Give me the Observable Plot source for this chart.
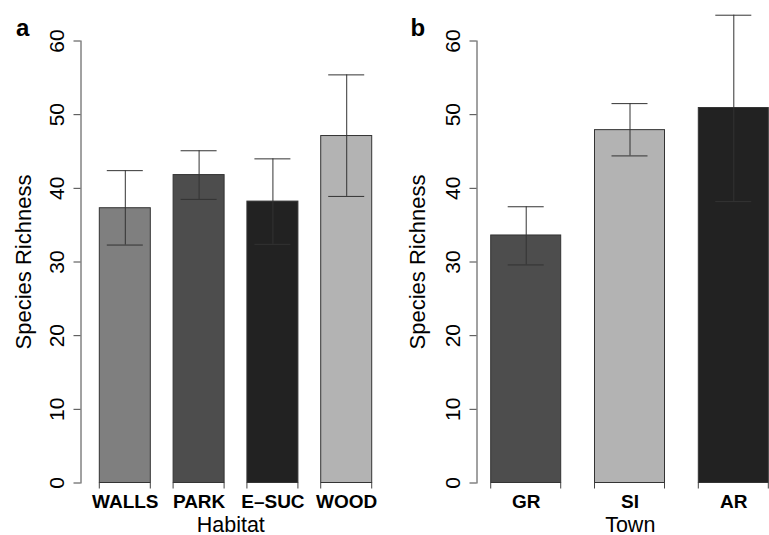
<!DOCTYPE html>
<html>
<head>
<meta charset="utf-8">
<script src="https://cdn.jsdelivr.net/npm/d3@7"></script>
<script src="https://cdn.jsdelivr.net/npm/@observablehq/plot@0.6"></script>
<style>
  html, body { margin: 0; padding: 0; background: #fff; }
  #row { display: flex; flex-direction: row; width: 769px; height: 535px; }
</style>
</head>
<body>
<div id="row"></div>
<script>
// ---- data ----
const habitats = ["WALLS", "PARK", "E–SUC", "WOOD"];
const habitatMean = [37.3, 41.8, 38.2, 47.1];
const habitatLow = [32.3, 38.5, 32.4, 38.9];
const habitatHigh = [42.4, 45.1, 44.0, 55.4];

const towns = ["GR", "SI", "AR"];
const townMean = [33.6, 47.9, 50.9];
const townLow = [29.6, 44.4, 38.2];
const townHigh = [37.5, 51.5, 63.5];

const yTicks = [0, 10, 20, 30, 40, 50, 60];

// ---- styles ----
const habitatColors = ["#7f7f7f", "#4d4d4d", "#222222", "#b3b3b3"];
const townColors = ["#4d4d4d", "#b3b3b3", "#222222"];
const FONT = "'Liberation Sans', Arial, Helvetica, sans-serif";

function rows(cats, mean, lo, hi) {
  return cats.map((c, i) => ({cat: c, mean: mean[i], lo: lo[i], hi: hi[i]}));
}

function edgeTicks(index, scales) {
  const x = scales.x, y = scales.y;
  const bw = x.bandwidth ? x.bandwidth() : 0;
  const g = d3.create("svg:g").attr("stroke", "#444").attr("stroke-width", 1);
  const y0 = y(0);
  for (const c of x.domain()) {
    const a = x(c), b = a + bw;
    for (const xx of [a, b]) {
      g.append("line").attr("x1", xx).attr("x2", xx).attr("y1", y0).attr("y2", y0 + 6);
    }
  }
  return g.node();
}

function panel(cfg) {
  const data = rows(cfg.cats, cfg.mean, cfg.lo, cfg.hi);
  return Plot.plot({
    width: cfg.width,
    height: 535,
    marginTop: 40.5,
    marginBottom: 52.5,
    marginLeft: cfg.marginLeft,
    marginRight: cfg.marginRight,
    style: {fontFamily: FONT, background: "white", overflow: "visible"},
    x: {type: "band", domain: cfg.cats, paddingInner: cfg.pi, paddingOuter: cfg.po, align: cfg.align, round: false},
    y: {domain: [0, 60]},
    color: {domain: cfg.cats, range: cfg.colors},
    marks: [
      Plot.barY(data, {x: "cat", y: "mean", fill: "cat", stroke: "#333", strokeWidth: 1}),
      Plot.ruleX(data, {x: "cat", y1: "lo", y2: "hi", stroke: "#333", strokeWidth: 1}),
      Plot.tickY(data, {x: "cat", y: "hi", stroke: "#333", strokeWidth: 1, insetLeft: cfg.capInset, insetRight: cfg.capInset}),
      Plot.tickY(data, {x: "cat", y: "lo", stroke: "#333", strokeWidth: 1, insetLeft: cfg.capInset, insetRight: cfg.capInset}),
      Plot.frame({anchor: "left", stroke: "#444"}),
      Plot.axisY(yTicks, {tickSize: 7, tickPadding: 10, tickRotate: -90, fontSize: 21, label: null, stroke: "#444"}),
      Plot.axisX({tickSize: 0, tickPadding: 11.2, fontSize: 19, fontWeight: "bold", label: null}),
      edgeTicks,
      Plot.text(["Species Richness"], {frameAnchor: "left", rotate: -90, dx: cfg.ylabDx, fontSize: 22, textAnchor: "middle", lineAnchor: "middle"}),
      Plot.text([cfg.xlabel], {frameAnchor: "bottom", dy: 48.5, dx: cfg.xlabDx, lineAnchor: "bottom", textAnchor: "middle", fontSize: 21.5}),
      Plot.text([cfg.letter], {frameAnchor: "top-left", dx: cfg.letterDx, dy: -5.5, lineAnchor: "bottom", textAnchor: "start", fontSize: 24, fontWeight: "bold"})
    ]
  });
}

const row = document.getElementById("row");
row.appendChild(panel({
  cats: habitats, mean: habitatMean, lo: habitatLow, hi: habitatHigh, colors: habitatColors,
  width: 390, marginLeft: 80.5, marginRight: 10, pi: 0.309, po: 0.1836, align: 0.694,
  capInset: 7.5, ylabDx: -57, xlabel: "Habitat", xlabDx: 0, letter: "a", letterDx: -65
}));
row.appendChild(panel({
  cats: towns, mean: townMean, lo: townLow, hi: townHigh, colors: townColors,
  width: 379, marginLeft: 86.5, marginRight: 0, pi: 0.3256, po: 0.0718, align: 0.953,
  capInset: 17, ylabDx: -59, xlabel: "Town", xlabDx: 7, letter: "b", letterDx: -66.5
}));
</script>
</body>
</html>
